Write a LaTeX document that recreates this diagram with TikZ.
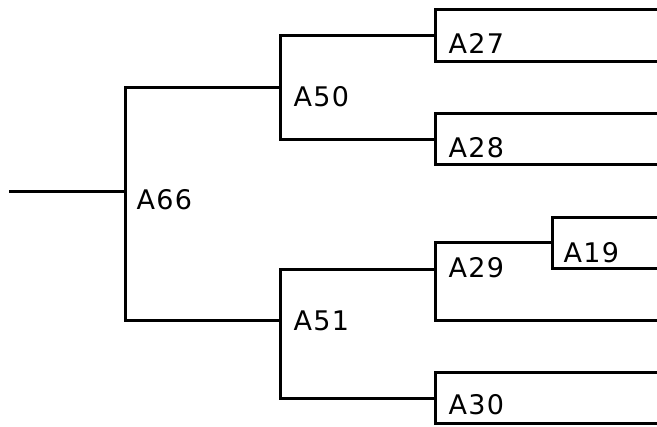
\documentclass[tikz,border=0pt]{standalone}
\usepackage{fontspec}
\newfontfamily\labelfont[LetterSpace=5]{DejaVu Sans}
\begin{document}
\begin{tikzpicture}[x=1pt,y=-1pt,line width=3pt,
  lbl/.style={anchor=base west,inner sep=0pt,font=\labelfont\fontsize{27}{32}\selectfont}]
\useasboundingbox (0,0) rectangle (657,427);
% junction coordinates
\coordinate (r0) at (9,191.5);
\coordinate (j66) at (125,191.5);
\coordinate (j66t) at (125,88);
\coordinate (j66b) at (125,321);
\coordinate (j50) at (280,88);
\coordinate (j50t) at (280,36);
\coordinate (j50b) at (280,140);
\coordinate (j51) at (280,321);
\coordinate (j51t) at (280,270);
\coordinate (j51b) at (280,399);
\coordinate (j27) at (435,36);
\coordinate (b27t) at (435,10);
\coordinate (b27b) at (435,62);
\coordinate (e27t) at (657,10);
\coordinate (e27b) at (657,62);
\coordinate (j28) at (435,140);
\coordinate (b28t) at (435,114);
\coordinate (b28b) at (435,165);
\coordinate (e28t) at (657,114);
\coordinate (e28b) at (657,165);
\coordinate (j29) at (435,270);
\coordinate (j29t) at (435,243);
\coordinate (j29b) at (435,321);
\coordinate (e29b) at (657,321);
\coordinate (j19) at (552,243);
\coordinate (b19t) at (552,218);
\coordinate (b19b) at (552,269);
\coordinate (e19t) at (657,218);
\coordinate (e19b) at (657,269);
\coordinate (j30) at (435,399);
\coordinate (b30t) at (435,373);
\coordinate (b30b) at (435,424);
\coordinate (e30t) at (657,373);
\coordinate (e30b) at (657,424);
% connectors
\draw (r0) -- (j66);
\draw (j50) -- (j66t) -- (j66b) -- (j51);
\draw (j27) -- (j50t) -- (j50b) -- (j28);
\draw (j29) -- (j51t) -- (j51b) -- (j30);
\draw (j19) -- (j29t) -- (j29b) -- (e29b);
\draw (e27t) -- (b27t) -- (b27b) -- (e27b);
\draw (e28t) -- (b28t) -- (b28b) -- (e28b);
\draw (e19t) -- (b19t) -- (b19b) -- (e19b);
\draw (e30t) -- (b30t) -- (b30b) -- (e30b);
% labels
\node[lbl] (l66) at (135,210) {A66};
\node[lbl] (l50) at (292,107) {A50};
\node[lbl] (l27) at (447,54) {A27};
\node[lbl] (l28) at (447,158) {A28};
\node[lbl] (l51) at (292,331) {A51};
\node[lbl] (l29) at (447,278) {A29};
\node[lbl] (l19) at (562,263) {A19};
\node[lbl] (l30) at (447,415) {A30};
\end{tikzpicture}
\end{document}
